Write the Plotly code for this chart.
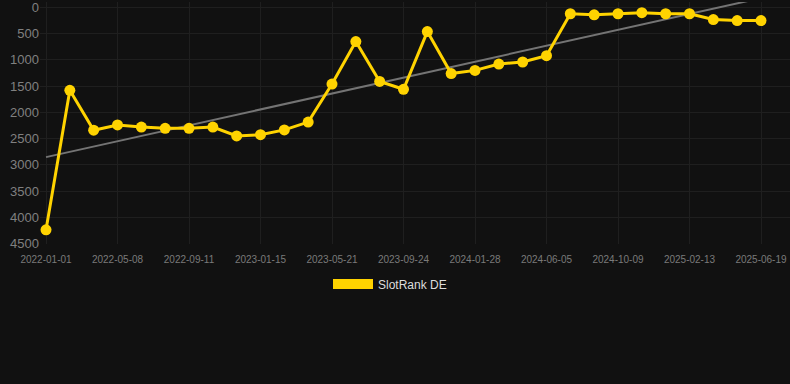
import numpy as np
import plotly.graph_objects as go

dates = [
    "2022-01-01", "2022-02-12", "2022-03-26", "2022-05-08", "2022-06-19", "2022-07-31",
    "2022-09-11", "2022-10-23", "2022-12-04", "2023-01-15", "2023-02-26", "2023-04-09",
    "2023-05-21", "2023-07-02", "2023-08-13", "2023-09-24", "2023-11-05", "2023-12-17",
    "2024-01-28", "2024-03-11", "2024-04-23", "2024-06-05", "2024-07-17", "2024-08-28",
    "2024-10-09", "2024-11-20", "2025-01-01", "2025-02-13", "2025-03-27", "2025-05-08",
    "2025-06-19",
]
ranks = [
    4240, 1580, 2340, 2240, 2280, 2305, 2305, 2280, 2450, 2425, 2335, 2185,
    1460, 650, 1410, 1560, 460, 1260, 1200, 1080, 1040, 920, 120, 140,
    120, 100, 120, 120, 230, 250, 250,
]
tick_labels = dates[::3]
y_ticks = [0, 500, 1000, 1500, 2000, 2500, 3000, 3500, 4000, 4500]

GOLD = "#FFD300"
BG = "#111111"
GRID = "#1f1f1f"

idx = np.arange(len(ranks))
slope, intercept = np.polyfit(idx, np.array(ranks, dtype=float), 1)
trend = (slope * idx + intercept).tolist()

fig = go.Figure()
fig.add_trace(go.Scatter(
    x=dates, y=trend, mode="lines",
    line=dict(color="#747474", width=2),
    showlegend=False, hoverinfo="skip",
))
fig.add_trace(go.Scatter(
    x=dates, y=ranks, mode="lines+markers",
    line=dict(color=GOLD, width=3),
    marker=dict(color=GOLD, size=11),
    cliponaxis=False, showlegend=False, name="SlotRank DE",
))
fig.add_trace(go.Scatter(
    x=[None], y=[None], mode="lines",
    line=dict(color=GOLD, width=12),
    name="SlotRank DE", showlegend=True,
))

fig.update_layout(
    width=790, height=384,
    paper_bgcolor=BG, plot_bgcolor=BG,
    margin=dict(l=40, r=0, t=0, b=140),
    font=dict(family="Liberation Sans, Arial, sans-serif"),
    legend=dict(
        orientation="h", xref="container", yref="container",
        x=0.5 - 5 / 790, xanchor="center", y=1 - 284 / 384, yanchor="middle",
        font=dict(color="#dddddd", size=12), itemwidth=40,
        bgcolor="rgba(0,0,0,0)",
    ),
    xaxis=dict(
        type="category", categoryorder="array", categoryarray=dates,
        range=[-0.252, 30 + 29 / 23.833],
        tickmode="array", tickvals=tick_labels, ticktext=tick_labels,
        showgrid=True, gridcolor=GRID, zeroline=False, showline=False,
        tickfont=dict(color="#7a7a7a", size=10), ticks="",
        ticklabelstandoff=8, ticklabeloverflow="allow",
    ),
    yaxis=dict(
        range=[4510, -104],
        tickmode="array", tickvals=y_ticks,
        showgrid=True, gridcolor=GRID, zeroline=False, showline=False,
        tickfont=dict(color="#808080", size=13), ticks="",
        ticklabeloverflow="allow",
    ),
)

fig.write_html("out.html")
